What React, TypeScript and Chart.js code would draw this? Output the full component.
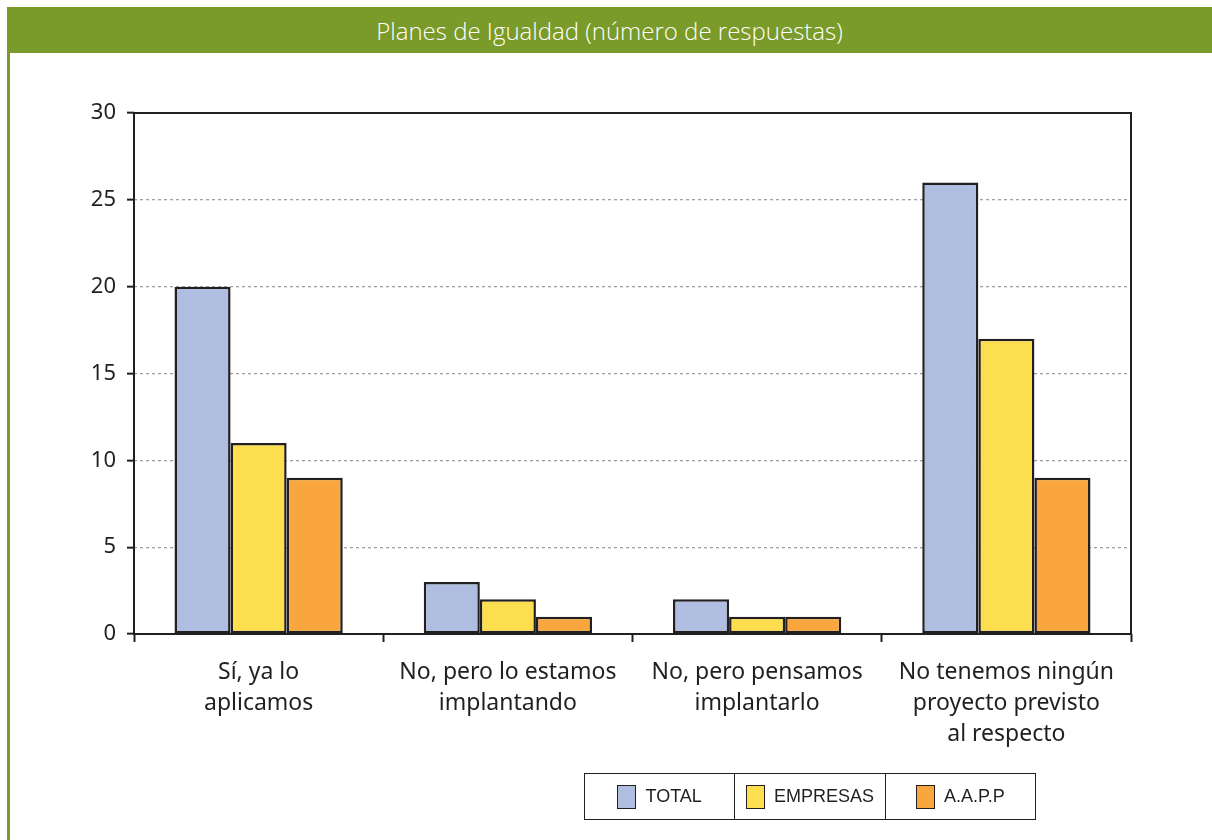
import React, { useEffect, useRef } from "react";
import { Chart, registerables } from "chart.js";

Chart.register(...registerables);

// ---- chart data ----
const TITLE = "Planes de Igualdad (número de respuestas)";
const categories: string[][] = [
  ["Sí, ya lo", "aplicamos"],
  ["No, pero lo estamos", "implantando"],
  ["No, pero pensamos", "implantarlo"],
  ["No tenemos ningún", "proyecto previsto", "al respecto"],
];
const seriesNames = ["TOTAL", "EMPRESAS", "A.A.P.P"];
const totalValues = [20, 3, 2, 26];
const empresasValues = [11, 2, 1, 17];
const aappValues = [9, 1, 1, 9];
const yMin = 0;
const yMax = 30;
const yStep = 5;

// ---- styling ----
const INK = "#231f20";
const GREEN = "#7a9a29";
const seriesColors = ["#aebde0", "#fdde4e", "#f8a63d"];
const LABEL_FONT = "'Noto Sans', 'Open Sans', sans-serif";
const LEGEND_FONT = "'Liberation Sans', Arial, sans-serif";

// Solid frame around the plotting area, drawn above the bars
const framePlugin = {
  id: "plotFrame",
  afterDatasetsDraw(chart: any) {
    const { ctx, chartArea: a } = chart;
    ctx.save();
    ctx.strokeStyle = INK;
    ctx.lineWidth = 2;
    ctx.strokeRect(a.left, a.top, a.right - a.left, a.bottom - a.top);
    ctx.restore();
  },
};

function BarChart() {
  const canvasRef = useRef<HTMLCanvasElement | null>(null);

  useEffect(() => {
    if (!canvasRef.current) return;
    const valueSets = [totalValues, empresasValues, aappValues];
    const chart = new Chart(canvasRef.current, {
      type: "bar",
      data: {
        labels: categories,
        datasets: seriesNames.map((name, i) => ({
          label: name,
          data: valueSets[i],
          backgroundColor: seriesColors[i],
          borderColor: INK,
          borderWidth: 2.5,
          borderSkipped: false,
          categoryPercentage: 0.675,
          barPercentage: 1,
        })),
      },
      options: {
        responsive: false,
        animation: false,
        events: [],
        layout: { padding: { left: 84, top: 113, right: 81, bottom: 76 } },
        plugins: {
          legend: { display: false },
          title: { display: false },
          tooltip: { enabled: false },
        },
        scales: {
          x: {
            grid: {
              display: true,
              offset: true,
              drawOnChartArea: false,
              drawTicks: true,
              tickLength: 8,
              tickWidth: 2,
              tickColor: INK,
            },
            border: { display: false },
            ticks: {
              color: INK,
              autoSkip: false,
              maxRotation: 0,
              padding: 15,
              font: { family: LABEL_FONT, size: 23, lineHeight: 1.35 },
            },
            afterFit: (s: any) => {
              s.height = 130;
            },
          },
          y: {
            min: yMin,
            max: yMax,
            ticks: {
              stepSize: yStep,
              color: INK,
              padding: 11,
              font: { family: LABEL_FONT, size: 22 },
            },
            grid: {
              color: (c: any) =>
                c.tick && (c.tick.value === yMin || c.tick.value === yMax)
                  ? "rgba(0,0,0,0)"
                  : "#a0a0a0",
              lineWidth: 1.3,
              tickColor: INK,
              tickLength: 7,
              tickWidth: 2,
              tickBorderDash: [],
            },
            border: { display: false, dash: [3, 3] },
            afterFit: (s: any) => {
              s.width = 50;
            },
          },
        },
      },
      plugins: [framePlugin],
    });
    return () => chart.destroy();
  }, []);

  return (
    <canvas
      ref={canvasRef}
      width={1212}
      height={840}
      style={{ position: "absolute", left: 0, top: 0, width: 1212, height: 840 }}
    />
  );
}

function Legend() {
  return (
    <div
      style={{
        position: "absolute",
        left: 584,
        top: 773,
        width: 452,
        height: 47,
        boxSizing: "border-box",
        border: `1.5px solid ${INK}`,
        display: "flex",
        fontFamily: LEGEND_FONT,
        fontSize: 18,
        color: INK,
      }}
    >
      {seriesNames.map((name, i) => (
        <div
          key={name}
          style={{
            flex: 1,
            display: "flex",
            alignItems: "center",
            justifyContent: "center",
            borderLeft: i === 0 ? "none" : `1.5px solid ${INK}`,
          }}
        >
          <span
            style={{
              display: "inline-block",
              width: 19,
              height: 24,
              boxSizing: "border-box",
              background: seriesColors[i],
              border: `1.5px solid ${INK}`,
              marginRight: 9,
            }}
          />
          <span>{name}</span>
        </div>
      ))}
    </div>
  );
}

export default function App() {
  return (
    <div
      style={{
        position: "absolute",
        left: 0,
        top: 0,
        width: 1212,
        height: 840,
        background: "#ffffff",
        overflow: "hidden",
      }}
    >
      <BarChart />
      <div
        style={{
          position: "absolute",
          left: 7,
          top: 7,
          width: 1205,
          height: 46,
          background: GREEN,
          color: "#ffffff",
          display: "flex",
          alignItems: "center",
          justifyContent: "center",
          fontFamily: "'Open Sans', 'Noto Sans', sans-serif",
          fontWeight: 300,
          fontSize: 24,
        }}
      >
        {TITLE}
      </div>
      <div
        style={{
          position: "absolute",
          left: 7,
          top: 53,
          width: 3,
          height: 787,
          background: GREEN,
        }}
      />
      <Legend />
    </div>
  );
}
